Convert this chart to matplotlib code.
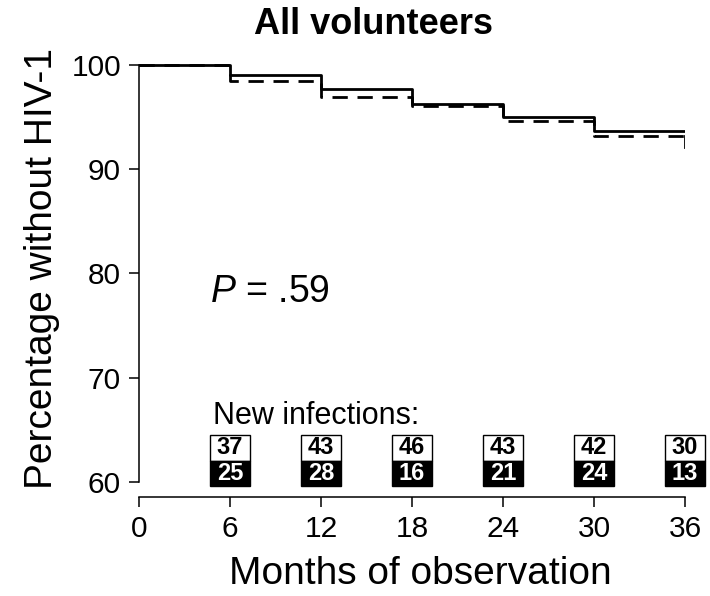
import matplotlib
matplotlib.use("Agg")
import matplotlib.pyplot as plt
from matplotlib.patches import Rectangle

plt.rcParams["font.family"] = ["Liberation Sans", "DejaVu Sans"]
plt.rcParams["mathtext.fontset"] = "custom"
plt.rcParams["mathtext.it"] = "Liberation Sans:italic"
plt.rcParams["mathtext.rm"] = "Liberation Sans"

# Kaplan-Meier step values (percent without HIV-1) at 0, 6, ..., 36 months
months = [0, 6, 12, 18, 24, 30, 36]
solid_pct = [100.0, 99.0, 97.7, 96.3, 95.05, 93.65, 93.65]
dashed_pct = [100.0, 98.5, 96.95, 96.05, 94.65, 93.2, 92.15]

# new infections per interval
box_months = [6, 12, 18, 24, 30, 36]
infections_top = [37, 43, 46, 43, 42, 30]
infections_bottom = [25, 28, 16, 21, 24, 13]

fig = plt.figure(figsize=(7.1, 5.96), dpi=100)
ax = fig.add_axes([139 / 710, 1 - 497.3 / 596, 546 / 710, (497.3 - 59.8) / 596])

ax.step(months, solid_pct, where="post", color="black", lw=2.0)
ax.step(months[:-1] + [36], dashed_pct[:-1] + [dashed_pct[-2]], where="post",
        color="black", lw=2.0, dashes=(5.5, 3.5))
# final drop of the dashed curve at 36 months
ax.plot([36, 36], [dashed_pct[-2], dashed_pct[-1]], color="black", lw=2.0)

ax.set_xlim(0, 36)
ax.set_ylim(58.53, 100.5)
ax.set_xticks(months)
ax.set_yticks([60, 70, 80, 90, 100])
for s in ["top", "right"]:
    ax.spines[s].set_visible(False)
ax.spines["left"].set_bounds(60, 100)
ax.spines["bottom"].set_bounds(0, 36)
ax.spines["left"].set_linewidth(1.1)
ax.spines["bottom"].set_linewidth(1.1)
ax.tick_params(direction="out", length=7, width=1.1, labelsize=21.5, pad=6)

ax.set_xlabel("Months of observation", fontsize=28, labelpad=9)
ax.set_ylabel("Percentage without HIV-1", fontsize=28, labelpad=8)
ax.xaxis.label.set_x(0.515)
ax.yaxis.label.set_y(0.524)

ax.text(4.68, 78.2, r"$P$ = .59", fontsize=27, va="center", ha="left")
ax.text(4.88, 66.3, "New infections:", fontsize=22, va="center", ha="left")

bw = 2.64
y_mid, h = 62.03, 2.46
for m, top, bot in zip(box_months, infections_top, infections_bottom):
    ax.add_patch(Rectangle((m - bw / 2, y_mid), bw, h, facecolor="white",
                           edgecolor="black", lw=1.0, clip_on=False))
    ax.add_patch(Rectangle((m - bw / 2, y_mid - h), bw, h, facecolor="black",
                           edgecolor="black", lw=1.0, clip_on=False))
    ax.text(m, y_mid + h / 2, str(top), ha="center", va="center",
            fontsize=17, fontweight="bold", color="black")
    ax.text(m, y_mid - h / 2, str(bot), ha="center", va="center",
            fontsize=17, fontweight="bold", color="white")

fig.text(374 / 710, 1 - 25 / 596, "All volunteers", ha="center", va="center",
         fontsize=26, fontweight="bold")

fig.savefig("out.png", dpi=100)
